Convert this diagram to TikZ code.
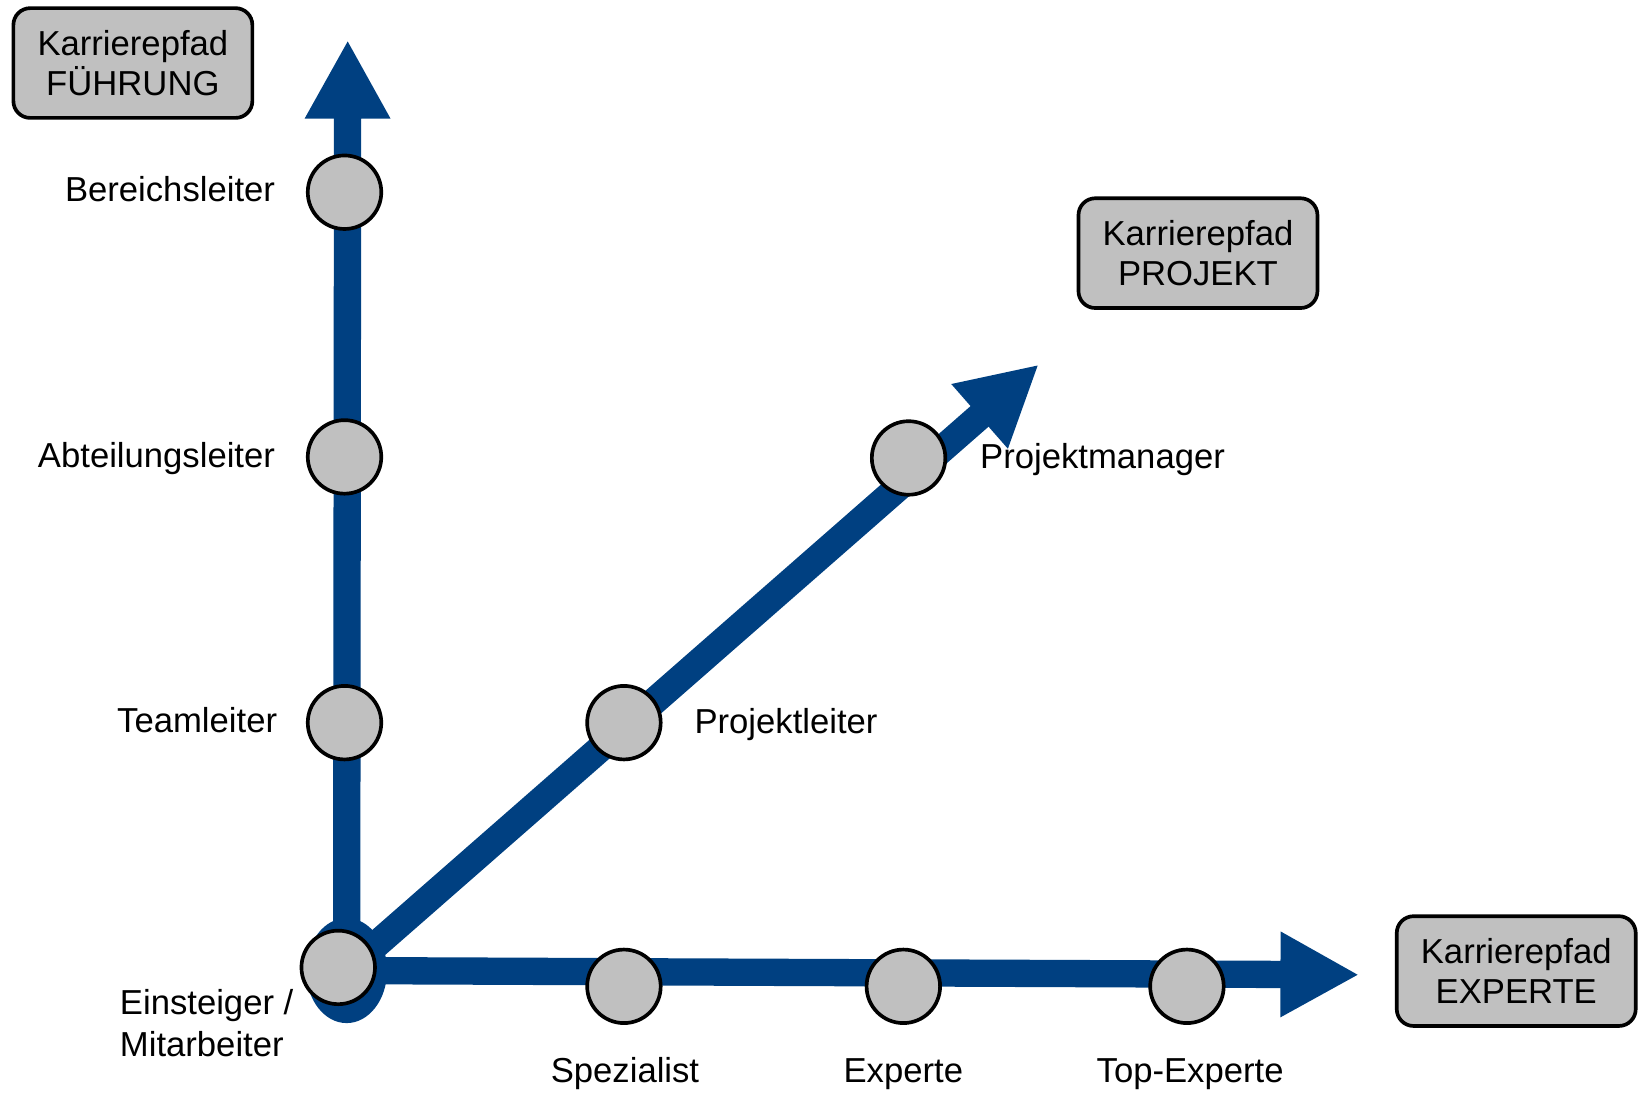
\documentclass[tikz,border=0pt]{standalone}
\usepackage{fontspec}
\setmainfont{Liberation Sans}
\usetikzlibrary{arrows.meta,backgrounds}
\definecolor{pathblue}{RGB}{0,64,129}
\definecolor{dotgray}{RGB}{192,192,192}
\begin{document}
\begin{tikzpicture}[x=1pt,y=-1pt,
  shaft/.style={draw=pathblue, line width=26pt, -{Triangle[length=75pt,width=76pt]}},
  stage/.style={circle, draw=black, line width=3.5pt, fill=dotgray, minimum size=70pt, inner sep=0pt},
  pathbox/.style={draw=black, line width=3.5pt, fill=dotgray, rounded corners=16pt,
    minimum width=227.5pt, minimum height=104.5pt, align=center,
    font=\fontsize{33}{38.5}\selectfont, inner sep=0pt},
  lbl/.style={font=\fontsize{33}{38}\selectfont, inner sep=0pt}]
\useasboundingbox (0,0) rectangle (1568,1042);

% stages
\node[stage] (bereich) at (328,183) {};
\node[stage] (abteil) at (328,435) {};
\node[stage] (team) at (328,688) {};
\node[stage] (einst) at (322,921) {};
\node[stage] (spez) at (594,939) {};
\node[stage] (expt) at (860,939) {};
\node[stage] (topexp) at (1130,939) {};
\node[stage] (pleiter) at (594,688) {};
\node[stage] (pman) at (865,436) {};

% paths behind the stages
\begin{scope}[on background layer]
\coordinate (hub) at (330,924);
\coordinate (tipF) at (331,38);
\coordinate (tipE) at (1294,928);
\coordinate (tipP) at (989,347);
\fill[pathblue] (hub) ellipse [x radius=38.5, y radius=50];
\draw[shaft] (hub) -- (tipF);
\draw[shaft] (hub) -- (tipE);
\draw[shaft] (hub) -- (tipP);
\end{scope}

% labels
\node[lbl, anchor=base east] (lber) at (262,192) {Bereichsleiter};
\node[lbl, anchor=base east] (labt) at (262,445) {Abteilungsleiter};
\node[lbl, anchor=base east] (lteam) at (264,697) {Teamleiter};
\node[lbl, anchor=base west] (lein) at (114,966) {Einsteiger /};
\node[lbl, anchor=base west] (lmit) at (114,1006) {Mitarbeiter};
\node[lbl, anchor=base] (lspez) at (595,1031) {Spezialist};
\node[lbl, anchor=base] (lexp) at (860,1031) {Experte};
\node[lbl, anchor=base] (ltop) at (1133,1031) {Top-Experte};
\node[lbl, anchor=base west] (lpl) at (661,698) {Projektleiter};
\node[lbl, anchor=base west] (lpm) at (933,446) {Projektmanager};

% path boxes
\node[pathbox] (boxF) at (126.5,60) {Karrierepfad\\FÜHRUNG};
\node[pathbox] (boxP) at (1140.5,241) {Karrierepfad\\PROJEKT};
\node[pathbox] (boxE) at (1443.5,924.5) {Karrierepfad\\EXPERTE};
\end{tikzpicture}
\end{document}
